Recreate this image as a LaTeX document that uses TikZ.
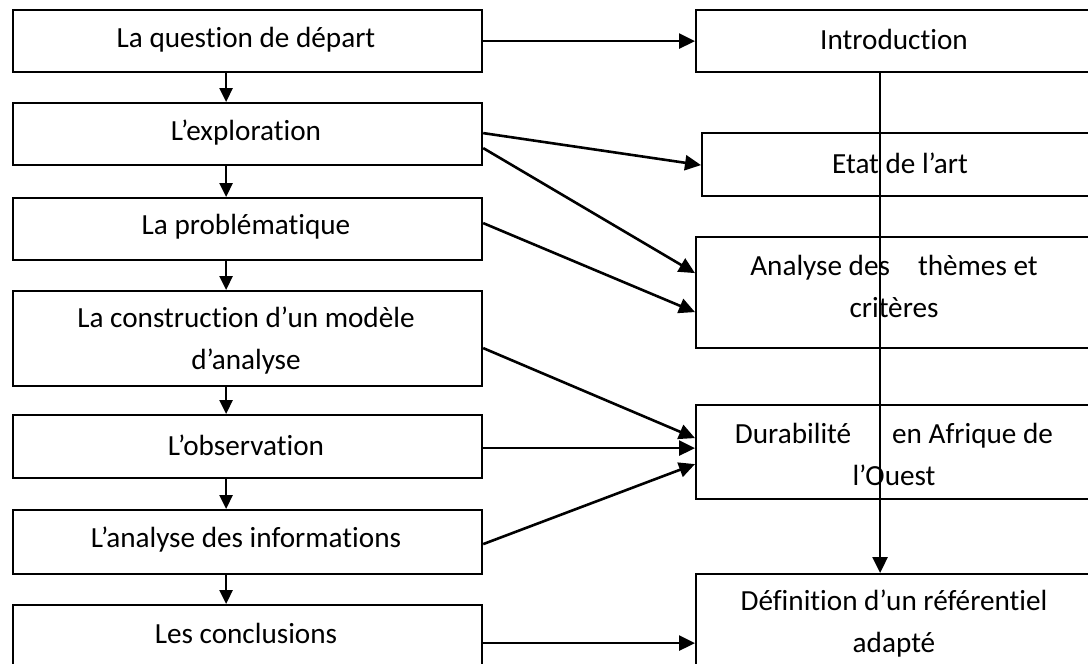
\documentclass[tikz,border=0pt]{standalone}
\usepackage{fontspec}
\setmainfont{Carlito}[Ligatures=NoCommon]
\usetikzlibrary{arrows.meta}
\begin{document}
\begin{tikzpicture}[x=1pt,y=-1pt,
  box/.style={draw=black,line width=2.2pt,fill=white,rectangle,inner sep=0pt,anchor=north west},
  lbl/.style={font=\fontsize{29.2}{42}\selectfont,align=center,inner sep=0pt},
  link/.style={line width=2.6pt,-{Triangle[length=16pt,width=15pt]}},
  shortlink/.style={line width=2.6pt,-{Triangle[length=14pt,width=13pt]}}]
\clip (0,0) rectangle (1088,664);
\fill[white] (0,0) rectangle (1088,664);

% left column: the research steps
\node[box,minimum width=469pt,minimum height=62pt] (b1) at (12,9) {};
\node[box,minimum width=469pt,minimum height=62pt] (b2) at (12,102) {};
\node[box,minimum width=469pt,minimum height=62pt] (b3) at (12,197) {};
\node[box,minimum width=469pt,minimum height=95pt] (b4) at (12,290) {};
\node[box,minimum width=469pt,minimum height=63pt] (b5) at (12,414) {};
\node[box,minimum width=469pt,minimum height=64pt] (b6) at (12,509) {};
\node[box,minimum width=469pt,minimum height=76pt] (b7) at (12,604) {};

\node[lbl] (t1) at (246,40) {La question de départ};
\node[lbl] (t2) at (246,133) {L’exploration};
\node[lbl] (t3) at (246,227) {La problématique};
\node[lbl] (t4) at (246,341) {La construction d’un modèle\\d’analyse};
\node[lbl] (t5) at (246,445) {L’observation};
\node[lbl] (t6) at (246,540) {L’analyse des informations};
\node[lbl] (t7) at (246,633) {Les conclusions};

% right column: the chapters
\node[box,minimum width=400pt,minimum height=62pt] (intro) at (695,9) {};
\node[box,minimum width=399pt,minimum height=63pt] (etat) at (701,132) {};
\node[box,minimum width=400pt,minimum height=111pt] (ana) at (695,236) {};
\node[box,minimum width=400pt,minimum height=94pt] (dura) at (695,404) {};
\node[box,minimum width=400pt,minimum height=117pt] (def) at (695,573) {};

\node[lbl] (u1) at (894,39) {Introduction};
\node[lbl] (u2) at (900,163) {Etat de l’art};
\node[lbl] (u3) at (894,286) {Analyse des\hspace*{28pt}thèmes et\\critères};
\node[lbl] (u4) at (894,454) {Durabilité\hspace*{41pt}en Afrique de\\l’Ouest};
\node[lbl] (u5) at (894,624) {Définition d’un référentiel\\adapté};

% sequence of steps
\draw[shortlink] ([xshift=-21.5pt]b1.south) -- ([xshift=-21.5pt]b2.north);
\draw[shortlink] ([xshift=-21.5pt]b2.south) -- ([xshift=-21.5pt]b3.north);
\draw[shortlink] ([xshift=-21.5pt]b3.south) -- ([xshift=-21.5pt]b4.north);
\draw[shortlink] ([xshift=-21.5pt]b4.south) -- ([xshift=-21.5pt]b5.north);
\draw[shortlink] ([xshift=-21.5pt]b5.south) -- ([xshift=-21.5pt]b6.north);
\draw[shortlink] ([xshift=-21.5pt]b6.south) -- ([xshift=-21.5pt]b7.north);

% steps feeding the chapters
\draw[link] (b1.east) -- (b1.east -| intro.west);
\draw[link] ([yshift=1pt]b2.east) -- ([yshift=-0.5pt]etat.west);
\draw[link] ([yshift=-14pt]b2.east) -- ([yshift=19.5pt]ana.west);
\draw[link] ([yshift=6pt]b3.east) -- ([yshift=-19.5pt]ana.west);
\draw[link] ([yshift=-9.5pt]b4.east) -- ([yshift=14pt]dura.west);
\draw[link] ([yshift=-1.5pt]b5.east) -- ([yshift=-1.5pt]b5.east -| dura.west);
\draw[link] ([yshift=-2pt]b6.east) -- ([yshift=-12pt]dura.west);
\draw[link] (b7.east) -- (b7.east -| def.west);

% thread running through the chapters
\draw[link] ([xshift=-16pt]intro.south) -- ([xshift=-16pt]def.north);
\end{tikzpicture}
\end{document}
